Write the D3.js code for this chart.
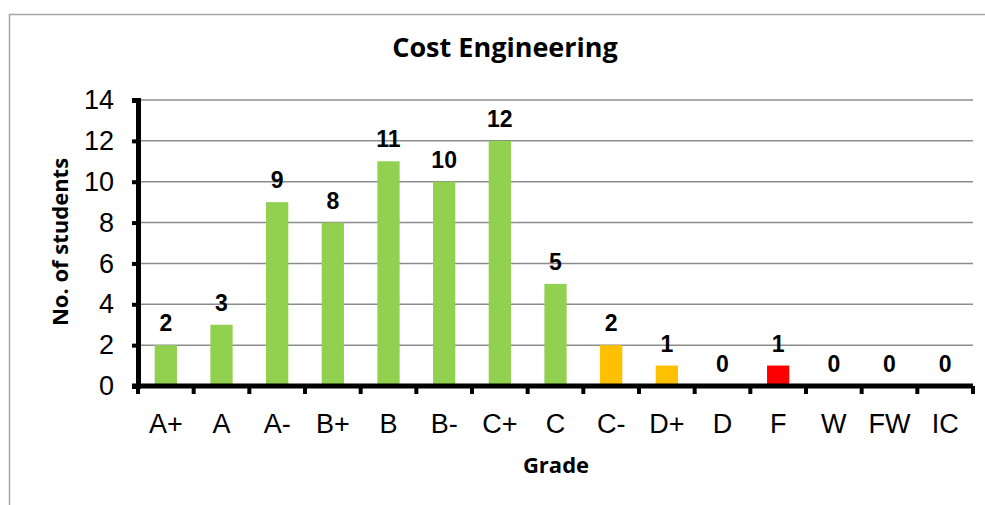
<!DOCTYPE html>
<html>
<head>
<meta charset="utf-8">
<script src="https://cdn.jsdelivr.net/npm/d3@7"></script>
<style>
  body { margin: 0; background: #fff; }
  svg { display: block; }
</style>
</head>
<body>
<div id="chart"></div>
<script>
// grade distribution
const grades = ["A+", "A", "A-", "B+", "B", "B-", "C+", "C", "C-", "D+", "D", "F", "W", "FW", "IC"];
const students = [2, 3, 9, 8, 11, 10, 12, 5, 2, 1, 0, 1, 0, 0, 0];
const barColors = ["#92D050", "#92D050", "#92D050", "#92D050", "#92D050", "#92D050", "#92D050", "#92D050",
                   "#FFC000", "#FFC000", "#FFC000", "#FF0000", "#FF0000", "#FF0000", "#FF0000"];
const yTicks = [0, 2, 4, 6, 8, 10, 12, 14];

const width = 985, height = 505;
const margin = { left: 138, right: 12, top: 100, bottom: 119 };

const svg = d3.select("#chart").append("svg")
    .attr("width", width)
    .attr("height", height);

// outer chart border (runs off the right and bottom edge)
svg.append("rect")
    .attr("x", 9.5).attr("y", 14.5)
    .attr("width", 1000).attr("height", 600)
    .attr("fill", "none")
    .attr("stroke", "#a6a6a6")
    .attr("stroke-width", 1.5);

const x = d3.scaleBand()
    .domain(grades)
    .range([margin.left, width - margin.right])
    .paddingInner(0.6)
    .paddingOuter(0.3);

const y = d3.scaleLinear()
    .domain([0, 14])
    .range([height - margin.bottom, margin.top]);

// gridlines
svg.append("g")
    .selectAll("line")
    .data(yTicks.filter(d => d > 0))
    .join("line")
    .attr("x1", margin.left)
    .attr("x2", width - margin.right)
    .attr("y1", d => y(d))
    .attr("y2", d => y(d))
    .attr("stroke", "#8c8c8c")
    .attr("stroke-width", 1.5);

// bars
svg.append("g")
    .selectAll("rect")
    .data(grades)
    .join("rect")
    .attr("x", d => x(d))
    .attr("width", x.bandwidth())
    .attr("y", (d, i) => y(students[i]))
    .attr("height", (d, i) => y(0) - y(students[i]))
    .attr("fill", (d, i) => barColors[i]);

// value labels
svg.append("g")
    .selectAll("text")
    .data(grades)
    .join("text")
    .attr("x", d => x(d) + x.bandwidth() / 2)
    .attr("y", (d, i) => y(students[i]) - 14)
    .attr("text-anchor", "middle")
    .attr("font-family", "Liberation Sans, Arial, sans-serif")
    .attr("font-weight", "bold")
    .attr("font-size", "23px")
    .attr("fill", "#000")
    .text((d, i) => students[i]);

// y axis
const yAxis = svg.append("g")
    .attr("transform", `translate(${margin.left},0)`)
    .call(d3.axisLeft(y).tickValues(yTicks).tickSize(6).tickPadding(18));
yAxis.select(".domain").attr("stroke", "#000").attr("stroke-width", 5);
yAxis.selectAll(".tick line").attr("stroke", "#000").attr("stroke-width", 4);
yAxis.selectAll("text")
    .attr("font-family", "Liberation Sans, Arial, sans-serif")
    .attr("font-size", "27px")
    .attr("fill", "#000");

// x axis, ticks sit between categories
const xAxisG = svg.append("g")
    .attr("transform", `translate(0,${y(0)})`);
xAxisG.append("line")
    .attr("x1", margin.left - 6)
    .attr("x2", width - margin.right)
    .attr("stroke", "#000")
    .attr("stroke-width", 5);
const bounds = d3.range(grades.length + 1).map(i => margin.left + (width - margin.right - margin.left) * i / grades.length);
xAxisG.selectAll("line.tk")
    .data(bounds)
    .join("line")
    .attr("class", "tk")
    .attr("x1", d => d).attr("x2", d => d)
    .attr("y1", 0).attr("y2", 8)
    .attr("stroke", "#000")
    .attr("stroke-width", 4);
xAxisG.selectAll("text")
    .data(grades)
    .join("text")
    .attr("x", d => x(d) + x.bandwidth() / 2)
    .attr("y", 47)
    .attr("text-anchor", "middle")
    .attr("font-family", "Liberation Sans, Arial, sans-serif")
    .attr("font-size", "27px")
    .attr("fill", "#000")
    .text(d => d);

// titles
svg.append("text")
    .attr("x", 505)
    .attr("y", 57)
    .attr("text-anchor", "middle")
    .attr("font-family", "Open Sans, sans-serif")
    .attr("font-weight", "bold")
    .attr("font-size", "27px")
    .text("Cost Engineering");

svg.append("text")
    .attr("transform", "translate(68,242) rotate(-90)")
    .attr("text-anchor", "middle")
    .attr("font-family", "Open Sans, sans-serif")
    .attr("font-weight", "bold")
    .attr("font-size", "22px")
    .text("No. of students");

svg.append("text")
    .attr("x", 556)
    .attr("y", 473)
    .attr("text-anchor", "middle")
    .attr("font-family", "Open Sans, sans-serif")
    .attr("font-weight", "bold")
    .attr("font-size", "22px")
    .text("Grade");
</script>
</body>
</html>
